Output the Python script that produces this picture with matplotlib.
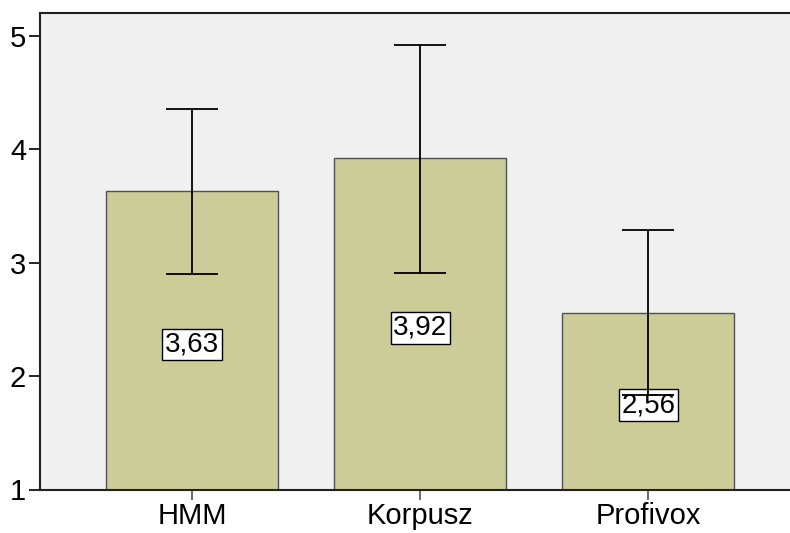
import matplotlib
matplotlib.use("Agg")
import matplotlib.pyplot as plt
import numpy as np

categories = ["HMM", "Korpusz", "Profivox"]
means = [3.63, 3.92, 2.56]
err_low = [2.90, 2.91, 1.83]
err_high = [4.36, 4.92, 3.29]
value_labels = ["3,63", "3,92", "2,56"]
yticks = [1, 2, 3, 4, 5]

plt.rcParams['font.family'] = ['Liberation Sans', 'DejaVu Sans']

fig = plt.figure(figsize=(7.9, 5.33), dpi=100)
ax = fig.add_axes([40/790, 1 - 489.5/533, 1 - 40/790, (489.5 - 12.7)/533])
ax.set_facecolor('#f0f0f0')

x = np.arange(len(categories))
base = 1.0
heights = [m - base for m in means]
ax.bar(x, heights, bottom=base, width=0.755, color='#cccc99',
       edgecolor='#505050', linewidth=1.0, zorder=2)

m = np.array(means)
yerr = np.vstack([m - np.array(err_low), np.array(err_high) - m])
ax.errorbar(x, m, yerr=yerr, fmt='none', ecolor='black', elinewidth=1.3,
            capsize=18.5, capthick=1.3, zorder=5)

for xi, mv, lab in zip(x, means, value_labels):
    ax.text(xi, (base + mv) / 2 - 0.035, lab, ha='center', va='center', fontsize=20,
            zorder=4,
            bbox=dict(boxstyle='square,pad=0.1', facecolor='white',
                      edgecolor='black', linewidth=1.0))

ax.set_ylim(1, 5.206)
ax.set_xlim(-0.668, 2.621)
ax.set_yticks(yticks)
ax.set_yticklabels([str(t) for t in yticks])
ax.set_xticks(x)
ax.set_xticklabels(categories)
ax.tick_params(axis='y', labelsize=21, length=8, width=1.2, pad=2)
ax.tick_params(axis='x', labelsize=21, length=7, width=1.2, pad=2, color='#505050')

for s in ['left', 'top', 'bottom']:
    ax.spines[s].set_linewidth(1.5)
    ax.spines[s].set_color('#202020')
ax.spines['right'].set_visible(False)

fig.savefig('out.png', dpi=100, facecolor='white')
